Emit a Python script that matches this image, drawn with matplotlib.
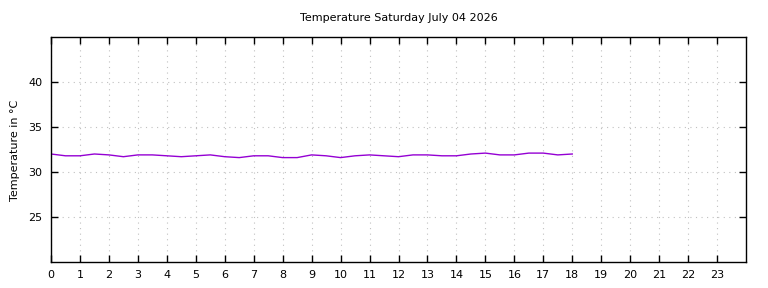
import numpy as np
import matplotlib
matplotlib.use("Agg")
import matplotlib.pyplot as plt

# half-hour readings, 00:00 .. 18:00
hours = np.arange(0, 18.01, 0.5)
temps = [32.0, 31.8, 31.8, 32.0, 31.9, 31.7, 31.9, 31.9, 31.8, 31.7,
         31.8, 31.9, 31.7, 31.6, 31.8, 31.8, 31.6, 31.6, 31.9, 31.8,
         31.6, 31.8, 31.9, 31.8, 31.7, 31.9, 31.9, 31.8, 31.8, 32.0,
         32.1, 31.9, 31.9, 32.1, 32.1, 31.9, 32.0]
xticks = list(range(0, 24))
yticks = [25, 30, 35, 40]

fig = plt.figure(figsize=(7.68, 2.88), dpi=100)
ax = fig.add_axes([51 / 768, 1 - 262 / 288, 695 / 768, 225 / 288])

ax.plot(hours, temps, color="#9400D3", lw=1.0)

ax.set_xlim(0, 24)
ax.set_ylim(20, 45)
ax.set_xticks(xticks)
ax.set_yticks(yticks)
ax.tick_params(direction="in", length=5, width=1, labelsize=8,
               top=True, right=True, pad=6)
ax.grid(True, color="#c0c0c0", linestyle=(0, (1, 4)), lw=0.8)
for s in ax.spines.values():
    s.set_linewidth(1.0)

fig.text(15 / 768, 1 - 150 / 288, "Temperature in °C", rotation=90,
         ha="center", va="center", fontsize=8)
fig.text(399 / 768, 1 - 18 / 288, "Temperature Saturday July 04 2026",
         ha="center", va="center", fontsize=8)

fig.savefig("out.png", dpi=100)
